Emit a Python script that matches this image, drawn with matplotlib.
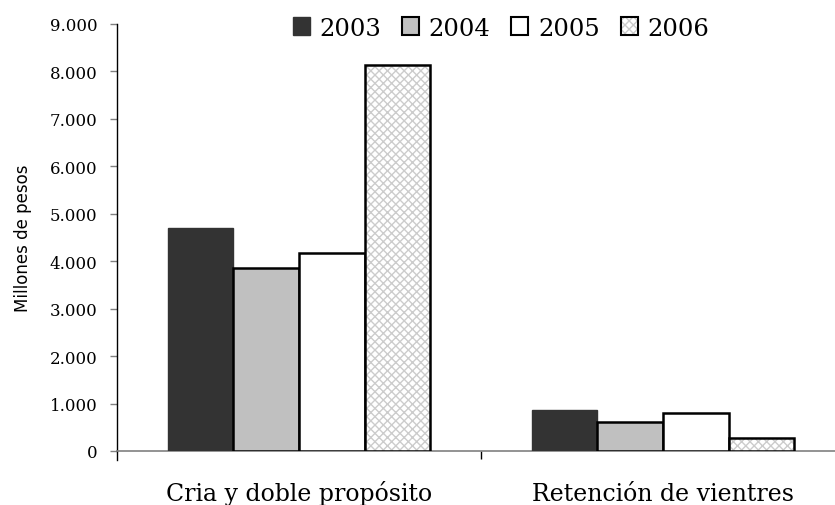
import matplotlib
matplotlib.use("Agg")
import matplotlib.pyplot as plt
from matplotlib.patches import Patch
from matplotlib.legend_handler import HandlerTuple
from matplotlib.ticker import FuncFormatter, FixedLocator
from matplotlib.transforms import blended_transform_factory
import numpy as np

categories = ["Cria y doble propósito", "Retención de vientres"]
years = ["2003", "2004", "2005", "2006"]
values_2003 = [4700, 860]
values_2004 = [3860, 610]
values_2005 = [4170, 800]
values_2006 = [8140, 280]
series = [values_2003, values_2004, values_2005, values_2006]
yticks = [0, 1000, 2000, 3000, 4000, 5000, 6000, 7000, 8000, 9000]

fig = plt.figure(figsize=(8.35, 5.06), dpi=100)
ax = fig.add_axes([117/835, 1-452/506, (845-117)/835, (452-25)/506])

serif = "DejaVu Serif"
x = np.arange(len(categories))
w = 0.18
offsets = [-1.5, -0.5, 0.5, 1.5]

# 2003
ax.bar(x + offsets[0]*w, values_2003, w, color="#333333", edgecolor="#333333", linewidth=1, zorder=3)
# 2004
ax.bar(x + offsets[1]*w, values_2004, w, color="#c0c0c0", edgecolor="black", linewidth=1.8, zorder=3)
# 2005
ax.bar(x + offsets[2]*w, values_2005, w, color="white", edgecolor="black", linewidth=1.8, zorder=3)
# 2006 pattern + border
ax.bar(x + offsets[3]*w, values_2006, w, color="white", edgecolor="#cccccc", hatch="xxxx", linewidth=0, zorder=3)
ax.bar(x + offsets[3]*w, values_2006, w, fill=False, edgecolor="black", linewidth=1.8, zorder=4)

ax.set_xlim(-0.5, 1.5)
ax.set_ylim(0, 9000)
ax.yaxis.set_major_locator(FixedLocator(yticks))
ax.yaxis.set_major_formatter(FuncFormatter(lambda v, p: f"{int(v):,}".replace(",", ".")))
ax.tick_params(axis="y", direction="out", length=5, width=1, color="#808080", pad=9,
               labelsize=12)
for lab in ax.get_yticklabels():
    lab.set_fontfamily(serif)

ax.set_xticks([])
ax.set_xticks([0.5], minor=True)
ax.tick_params(axis="x", which="minor", direction="out", length=6, width=1, color="black",
               labelbottom=False)
trans = blended_transform_factory(ax.transData, fig.transFigure)
for xi, cat in zip(x, categories):
    ax.text(xi, 1 - 501/506, cat, transform=trans, ha="center", va="baseline",
            fontsize=17, fontfamily=serif)

for s in ["top", "right"]:
    ax.spines[s].set_visible(False)
ax.spines["bottom"].set_color("#808080")
ax.spines["bottom"].set_linewidth(1.2)
ax.spines["left"].set_color("black")
ax.spines["left"].set_linewidth(1)
ax.plot([0, 0], [0, -0.022], transform=ax.transAxes, clip_on=False, color="black", lw=1)

ax.set_ylabel("Millones de pesos", fontsize=12, fontfamily="DejaVu Sans", labelpad=13)

h2006 = (Patch(facecolor="white", edgecolor="#cccccc", hatch="xxxx", linewidth=0),
         Patch(fill=False, edgecolor="black", linewidth=1.5))
handles = [Patch(facecolor="#333333", edgecolor="#333333"),
           Patch(facecolor="#c0c0c0", edgecolor="black", linewidth=1.5),
           Patch(facecolor="white", edgecolor="black", linewidth=1.5),
           h2006]
leg = fig.legend(handles, years, loc="center", bbox_to_anchor=(501/835, 1-29/506), ncol=4,
                 frameon=False, handlelength=0.7, handleheight=0.7, handletextpad=0.4,
                 columnspacing=0.85, prop={"family": serif, "size": 17.5},
                 handler_map={tuple: HandlerTuple(ndivide=1)})

fig.savefig("out.png", dpi=100)
